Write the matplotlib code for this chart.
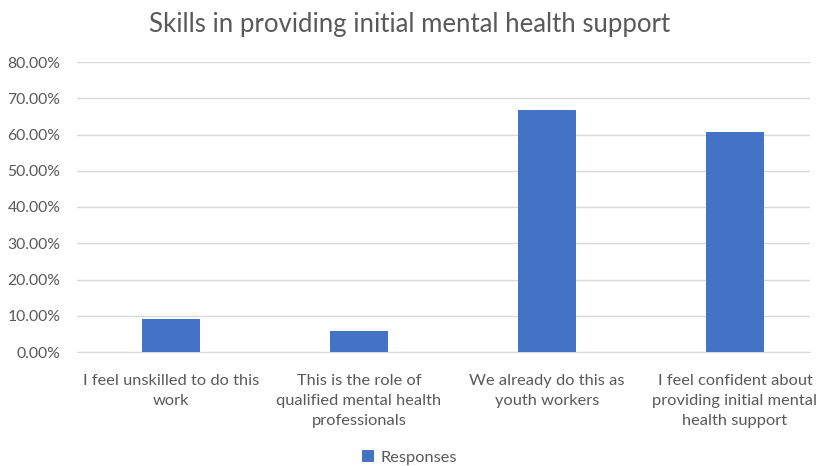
import matplotlib
matplotlib.use("Agg")
import matplotlib.pyplot as plt
from matplotlib.ticker import FuncFormatter

categories = ["I feel unskilled to do this\nwork",
              "This is the role of\nqualified mental health\nprofessionals",
              "We already do this as\nyouth workers",
              "I feel confident about\nproviding initial mental\nhealth support"]
values = [0.090, 0.059, 0.667, 0.606]
series_name = "Responses"
title = "Skills in providing initial mental health support"

plt.rcParams['font.family'] = ['Lato', 'DejaVu Sans']
txt = '#595959'

fig = plt.figure(figsize=(8.19, 4.66), dpi=100)
ax = fig.add_axes([77/819, 114/466, (810-77)/819, (352-62)/466])
x = list(range(len(categories)))
ax.bar(x, values, width=0.31, color='#4472C4', label=series_name, zorder=3)
ax.set_xlim(-0.5, 3 + (810-735)/188)
ax.set_ylim(0, 0.8)
ax.set_yticks([i/10 for i in range(9)])
ax.yaxis.set_major_formatter(FuncFormatter(lambda v, p: f"{v*100:.2f}%"))
ax.grid(axis='y', color='#D9D9D9', linewidth=1, zorder=0)
for s in ['top', 'right', 'left']:
    ax.spines[s].set_visible(False)
ax.spines['bottom'].set_color('#D9D9D9')
ax.tick_params(axis='y', length=0, labelsize=11.3, labelcolor=txt, pad=12)
ax.tick_params(axis='x', length=0, labelsize=11.8, labelcolor=txt, pad=16)
ax.set_xticks(x)
ax.set_xticklabels(categories, linespacing=1.55)
fig.suptitle(title, fontsize=18.5, color=txt, y=0.975)
fig.legend(loc='lower center', bbox_to_anchor=(0.5, -0.029), frameon=False,
           fontsize=11.8, labelcolor=txt, handlelength=0.7, handleheight=0.7,
           handletextpad=0.4)
fig.savefig("out.png", dpi=100, facecolor='white')
